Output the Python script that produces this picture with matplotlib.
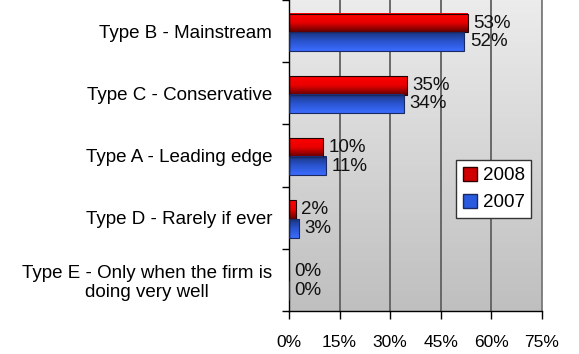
import numpy as np
import matplotlib.pyplot as plt
from matplotlib.colors import LinearSegmentedColormap
from matplotlib.patches import Patch

plt.rcParams['font.family'] = ['Liberation Sans', 'DejaVu Sans']

categories = ['Type B - Mainstream', 'Type C - Conservative', 'Type A - Leading edge',
              'Type D - Rarely if ever', 'Type E - Only when the firm is\ndoing very well']
vals_2008 = [53, 35, 10, 2, 0]
vals_2007 = [52, 34, 11, 3, 0]
xticks = [0, 15, 30, 45, 60, 75]

red_cmap = LinearSegmentedColormap.from_list('red', ['#ff0000', '#e80000', '#600000'])
blue_cmap = LinearSegmentedColormap.from_list('blue', ['#1a3380', '#2a55d0', '#3b6cff'])
back_cmap = LinearSegmentedColormap.from_list('back', ['#ececec', '#bfbfbf'])


def fill_gradient(ax, bars, cmap):
    grad = np.linspace(0, 1, 256).reshape(-1, 1)
    for bar in bars:
        x, y = bar.get_xy()
        w, h = bar.get_width(), bar.get_height()
        if w <= 0:
            continue
        ax.imshow(grad, extent=[x, x + w, y + h, y], origin='upper', aspect='auto',
                  cmap=cmap, zorder=2, interpolation='bilinear')


fig = plt.figure(figsize=(5.79, 3.54), dpi=100)
ax = fig.add_axes([0.499, 0.1215, 0.437, 0.8785])

# background shading
ax.imshow(np.linspace(0, 1, 256).reshape(-1, 1), extent=[0, 1, 0, 1], origin='upper',
          transform=ax.transAxes, aspect='auto', cmap=back_cmap, zorder=0)

y = np.arange(len(categories))
h = 0.3
bars08 = ax.barh(y - 0.13, vals_2008, height=h, facecolor='none', edgecolor='#200000',
                 linewidth=0.8, zorder=3)
bars07 = ax.barh(y + 0.17, vals_2007, height=h, facecolor='none', edgecolor='#1a2a60',
                 linewidth=0.8, zorder=3)
fill_gradient(ax, bars08, red_cmap)
fill_gradient(ax, bars07, blue_cmap)

for bars, vals in [(bars08, vals_2008), (bars07, vals_2007)]:
    for bar, v in zip(bars, vals):
        ax.annotate(f'{v}%', (v, bar.get_y() + bar.get_height() / 2),
                    xytext=(4, 0), textcoords='offset points',
                    ha='left', va='center', fontsize=13.5, color='#111111')

ax.set_xlim(0, 75)
ax.set_ylim(len(categories) - 0.5, -0.5)

ax.set_xticks(xticks)
ax.set_xticklabels([f'{t}%' for t in xticks], fontsize=12.5)
ax.tick_params(axis='x', length=6, width=1, color='black', pad=11)
ax.xaxis.grid(True, color='#606060', linewidth=1.3, zorder=0.5)
ax.set_axisbelow(True)

ax.set_yticks(y)
ax.set_yticklabels(categories, fontsize=13.5)
for t in ax.get_yticklabels():
    t.set_multialignment('center')
ax.tick_params(axis='y', which='major', length=0, pad=12)
ax.set_yticks(np.arange(len(categories) + 1) - 0.5, minor=True)
ax.tick_params(axis='y', which='minor', length=5, width=1, color='black')

ax.spines['top'].set_visible(False)
ax.spines['right'].set_color('#808080')
ax.spines['right'].set_linewidth(1.3)
for s in ['left', 'bottom']:
    ax.spines[s].set_color('black')
    ax.spines[s].set_linewidth(1)

handles = [Patch(facecolor='#d00000', edgecolor='#300000', label='2008'),
           Patch(facecolor='#2a5ae0', edgecolor='#1a2a60', label='2007')]
leg = ax.legend(handles=handles, loc='center right', bbox_to_anchor=(0.957, 0.392),
                borderaxespad=0, fontsize=13.5, frameon=True, fancybox=False, framealpha=1,
                edgecolor='#333333', handlelength=0.75, handleheight=0.75,
                handletextpad=0.3, borderpad=0.35, labelspacing=0.5)
leg.get_frame().set_linewidth(1)

fig.savefig('out.png', dpi=100)
